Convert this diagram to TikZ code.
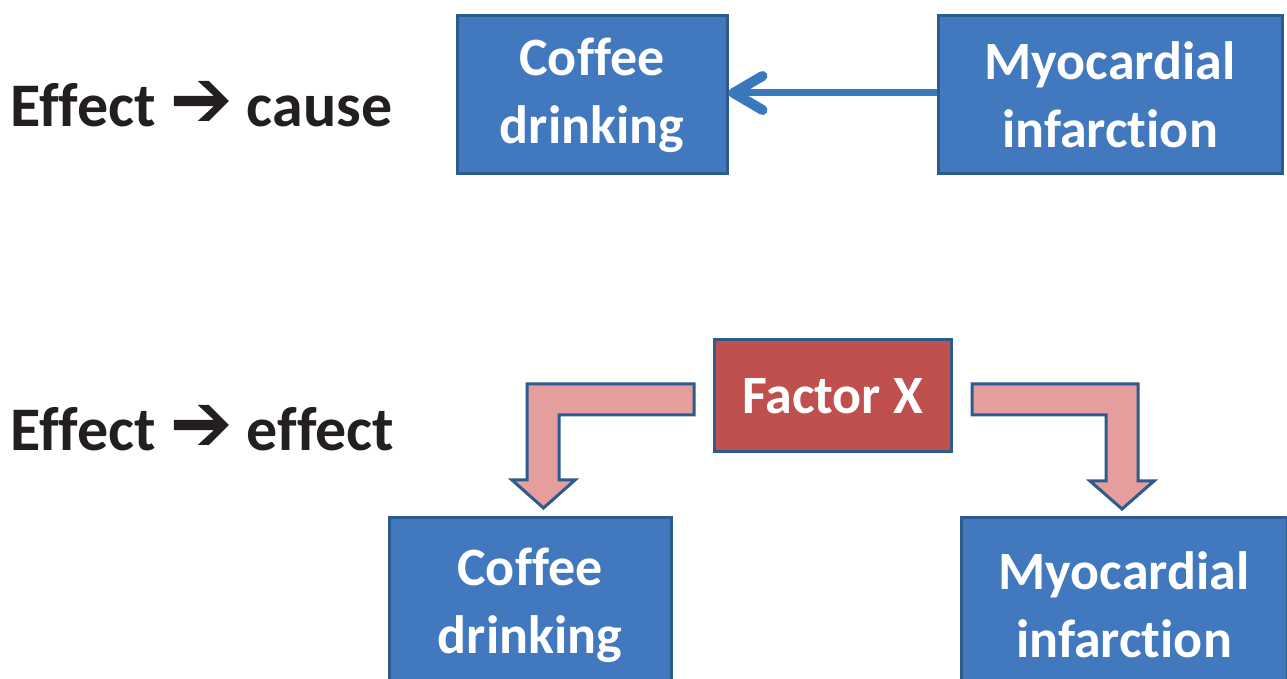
\documentclass[tikz,border=0pt]{standalone}
\usepackage{fontspec}
\setmainfont{Carlito}[Ligatures={NoCommon}]

\definecolor{boxblue}{HTML}{4279BE}
\definecolor{edgeblue}{HTML}{2C5B8D}
\definecolor{lineblue}{HTML}{3A78BE}
\definecolor{factorred}{HTML}{C0504D}
\definecolor{arrowpink}{HTML}{E59E9C}
\definecolor{textdark}{HTML}{231F20}

\newcommand{\thickarrow}{\tikz[baseline={(0,-13pt)},x=1pt,y=1pt]{%
  \fill[textdark] (0,2.6)--(20,2.6)--(12,10)--(17.5,10)--(27.5,0)--(17.5,-10)--(12,-10)--(20,-2.6)--(0,-2.6)--cycle;}}

\begin{document}
\begin{tikzpicture}[x=0.5pt,y=-0.5pt,
  box/.style={draw=edgeblue,line width=1.5pt,fill=boxblue,text=white,align=center,
    inner sep=0pt,font=\bfseries\fontsize{27}{34}\selectfont},
  side/.style={anchor=base west,inner sep=0pt,text=textdark,font=\bfseries\fontsize{31}{36}\selectfont},
  bent/.style={draw=edgeblue,line width=1.5pt,fill=arrowpink,line join=miter}]
\useasboundingbox (0,0) rectangle (1287,679);

% effect -> cause
\node[side] (labelCause) at (10,127) {Effect\hspace{9pt}\thickarrow\hspace{9pt}cause};
\node[box,minimum width=135pt,minimum height=79pt] (coffeeA) at (592,95) {Coffee\\drinking};
\node[box,minimum width=172pt,minimum height=79pt] (infarctA) at (1110,95) {Myocardial\\infarction};
\coordinate (tipA) at (coffeeA.east |- 0,93);
\draw[lineblue,line width=3.5pt] (infarctA.west |- tipA) -- ([xshift=2pt]tipA);
\draw[lineblue,line width=5pt,line cap=round,line join=round]
  ([shift={(34,-17)}]tipA) -- ([shift={(5,0)}]tipA) -- ([shift={(34,17)}]tipA);

% effect -> effect
\node[side] (labelEffect) at (10,451) {Effect\hspace{9pt}\thickarrow\hspace{9pt}effect};
\node[box,fill=factorred,minimum width=118.5pt,minimum height=56pt] (factorX) at (832.5,396) {Factor X};
\node[box,minimum width=141pt,minimum height=87pt] (coffeeB) at (530,605) {Coffee\\drinking};
\node[box,minimum width=163pt,minimum height=87pt] (infarctB) at (1124,605) {Myocardial\\infarction};

\draw[bent] (694,384) -- (527,384) -- (527,480) -- (512,480) -- (543.5,508)
  -- (575,480) -- (559,480) -- (559,415) -- (694,415) -- cycle;
\draw[bent] (972,384) -- (1138,384) -- (1138,481) -- (1154,481) -- (1122,509)
  -- (1090,481) -- (1106,481) -- (1106,415) -- (972,415) -- cycle;
\end{tikzpicture}
\end{document}
